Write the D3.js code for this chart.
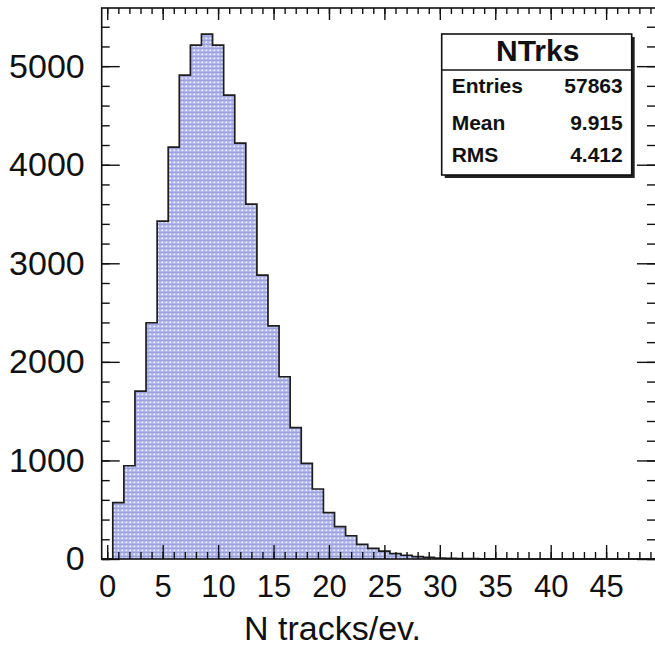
<!DOCTYPE html>
<html>
<head>
<meta charset="utf-8">
<script src="https://cdn.jsdelivr.net/npm/d3@7"></script>
<style>
  body { margin: 0; background: #fff; }
  svg { display: block; font-family: "Liberation Sans", Arial, sans-serif; }
</style>
</head>
<body>
<script>
// histogram contents, one bin per track count (bin centres 0..49)
const binCenters = [0, 1, 2, 3, 4, 5, 6, 7, 8, 9, 10, 11, 12, 13, 14, 15, 16, 17, 18, 19,
    20, 21, 22, 23, 24, 25, 26, 27, 28, 29, 30, 31, 32, 33, 34, 35, 36, 37, 38, 39,
    40, 41, 42, 43, 44, 45, 46, 47, 48, 49];
const counts = [0, 571, 946, 1704, 2397, 3428, 4178, 4909, 5213, 5325,
    5213, 4706, 4219, 3600, 2880, 2366, 1849, 1332, 971, 710,
    470, 328, 236, 149, 108, 80, 55, 38, 25, 16,
    10, 7, 4, 3, 2, 1, 1, 0, 0, 0,
    0, 0, 0, 0, 0, 0, 0, 0, 0, 0];

const xTickValues = [0, 5, 10, 15, 20, 25, 30, 35, 40, 45];
const yTickValues = [0, 1000, 2000, 3000, 4000, 5000];

const statsTitle = "NTrks";
const statsNames = ["Entries", "Mean", "RMS"];
const statsValues = ["57863", "9.915", "4.412"];

const xTitle = "N tracks/ev.";

// frame in page pixels
const W = 655, H = 646;
const frame = { left: 101.7, right: 656, top: 8, bottom: 559 };

const svg = d3.select("body").append("svg")
    .attr("width", W)
    .attr("height", H);

// dotted ROOT-like fill
const pat = svg.append("defs").append("pattern")
    .attr("id", "dots")
    .attr("width", 4).attr("height", 4)
    .attr("patternUnits", "userSpaceOnUse");
pat.append("rect").attr("width", 4).attr("height", 4).attr("fill", "#aeb4e9");
pat.append("rect").attr("x", 0).attr("y", 0).attr("width", 4).attr("height", 1).attr("fill", "#9aa1da");
pat.append("rect").attr("x", 1.5).attr("y", 1.5).attr("width", 1.6).attr("height", 1.6).attr("fill", "#f4f5fd");

const x = d3.scaleLinear()
    .domain([-0.5, 49.5])
    .range([frame.left, frame.right]);

const y = d3.scaleLinear()
    .domain([0, 5590])
    .range([frame.bottom, frame.top]);

// step outline of the histogram
const pts = [[binCenters[0] - 0.5, 0]];
binCenters.forEach((c, i) => {
    pts.push([c - 0.5, counts[i]]);
    pts.push([c + 0.5, counts[i]]);
});
pts.push([binCenters[binCenters.length - 1] + 0.5, 0]);

const line = d3.line()
    .x(d => x(d[0]))
    .y(d => y(d[1]));

svg.append("path")
    .attr("d", line(pts) + "Z")
    .attr("fill", "url(#dots)")
    .attr("stroke", "none");

svg.append("path")
    .attr("d", line(pts))
    .attr("fill", "none")
    .attr("stroke", "#1e1e1e")
    .attr("stroke-width", 1.7)
    .attr("stroke-linejoin", "miter");

// axes: ticks pointing inward, like ROOT
function styleAxis(g) {
    g.select(".domain").remove();
    g.selectAll(".tick line").attr("stroke", "#111").attr("stroke-width", 1.4);
}

const minorX = d3.range(0, 50, 1);
const minorY = d3.range(0, 5600, 200);

// bottom
svg.append("g")
    .attr("transform", `translate(0,${frame.bottom})`)
    .call(d3.axisBottom(x).tickValues(minorX).tickSize(-7).tickFormat(""))
    .call(styleAxis);
svg.append("g")
    .attr("transform", `translate(0,${frame.bottom})`)
    .call(d3.axisBottom(x).tickValues(xTickValues).tickSize(-14).tickPadding(16).tickFormat(d3.format("d")))
    .call(styleAxis)
    .call(g => g.selectAll("text")
        .attr("font-size", 31)
        .attr("font-family", "Liberation Sans, Arial, sans-serif")
        .attr("fill", "#111"));

// top
svg.append("g")
    .attr("transform", `translate(0,${frame.top})`)
    .call(d3.axisTop(x).tickValues(minorX).tickSize(-6).tickFormat(""))
    .call(styleAxis);
svg.append("g")
    .attr("transform", `translate(0,${frame.top})`)
    .call(d3.axisTop(x).tickValues(xTickValues).tickSize(-12).tickFormat(""))
    .call(styleAxis);

// left
svg.append("g")
    .attr("transform", `translate(${frame.left},0)`)
    .call(d3.axisLeft(y).tickValues(minorY).tickSize(-8).tickFormat(""))
    .call(styleAxis);
svg.append("g")
    .attr("transform", `translate(${frame.left},0)`)
    .call(d3.axisLeft(y).tickValues(yTickValues).tickSize(-18).tickPadding(17).tickFormat(d3.format("d")))
    .call(styleAxis)
    .call(g => g.selectAll("text")
        .attr("font-size", 34)
        .attr("font-family", "Liberation Sans, Arial, sans-serif")
        .attr("fill", "#111"));

// right
svg.append("g")
    .attr("transform", `translate(${frame.right - 1},0)`)
    .call(d3.axisRight(y).tickValues(minorY).tickSize(-8).tickFormat(""))
    .call(styleAxis);
svg.append("g")
    .attr("transform", `translate(${frame.right - 1},0)`)
    .call(d3.axisRight(y).tickValues(yTickValues).tickSize(-18).tickFormat(""))
    .call(styleAxis);

// frame
svg.append("rect")
    .attr("x", frame.left)
    .attr("y", frame.top)
    .attr("width", frame.right - frame.left)
    .attr("height", frame.bottom - frame.top)
    .attr("fill", "none")
    .attr("stroke", "#111")
    .attr("stroke-width", 1.6);

// axis title
svg.append("text")
    .attr("x", 332.5)
    .attr("y", 640)
    .attr("text-anchor", "middle")
    .attr("font-size", 34)
    .attr("fill", "#111")
    .text(xTitle);

// stats box
const box = { x: 441.7, y: 34, w: 190, h: 141, head: 36 };
const stats = svg.append("g");
stats.append("rect")
    .attr("x", box.x + 3).attr("y", box.y + 3)
    .attr("width", box.w).attr("height", box.h)
    .attr("fill", "#222");
stats.append("rect")
    .attr("x", box.x).attr("y", box.y)
    .attr("width", box.w).attr("height", box.h)
    .attr("fill", "#fff")
    .attr("stroke", "#111")
    .attr("stroke-width", 1.6);
stats.append("line")
    .attr("x1", box.x).attr("x2", box.x + box.w)
    .attr("y1", box.y + box.head).attr("y2", box.y + box.head)
    .attr("stroke", "#111")
    .attr("stroke-width", 1.6);
stats.append("text")
    .attr("x", box.x + box.w / 2 + 1)
    .attr("y", box.y + 27)
    .attr("text-anchor", "middle")
    .attr("font-size", 30)
    .attr("font-weight", "bold")
    .attr("fill", "#111")
    .text(statsTitle);

const rowBase = [93, 130, 162];
statsNames.forEach((name, i) => {
    stats.append("text")
        .attr("x", box.x + 10)
        .attr("y", rowBase[i])
        .attr("font-size", 21)
        .attr("font-weight", "bold")
        .attr("fill", "#111")
        .text(name);
    stats.append("text")
        .attr("x", box.x + box.w - 9)
        .attr("y", rowBase[i])
        .attr("text-anchor", "end")
        .attr("font-size", 21)
        .attr("font-weight", "bold")
        .attr("fill", "#111")
        .text(statsValues[i]);
});
</script>
</body>
</html>
